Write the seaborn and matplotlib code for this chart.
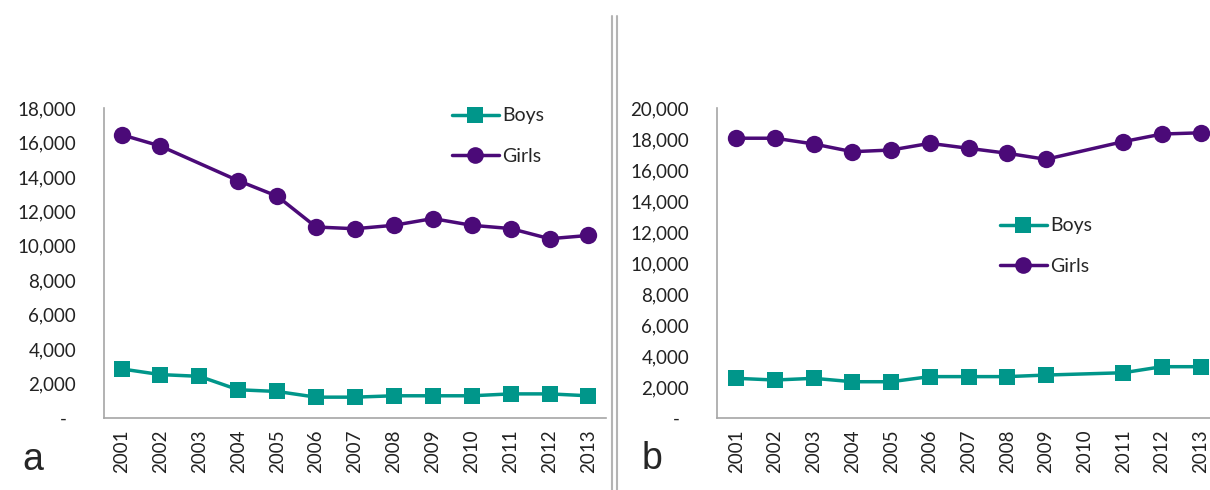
import seaborn as sns
import matplotlib.pyplot as plt
import matplotlib.lines as mlines
import pandas as pd
import numpy as np

# ----------- DATA -----------
years = list(range(2001, 2014))

# panel a
boys_a = [2850, 2520, 2420, 1640, 1540, 1210, 1210, 1290, 1290, 1290, 1400, 1400, 1290]
girls_a = [16450, 15790, np.nan, 13780, 12880, 11090, 10990, 11190, 11580, 11190, 11000, 10410, 10600]

# panel b
boys_b = [2560, 2450, 2560, 2340, 2340, 2670, 2670, 2670, 2770, np.nan, 2920, 3310, 3310]
girls_b = [18050, 18050, 17680, 17180, 17290, 17720, 17400, 17080, 16690, np.nan, 17830, 18320, 18400]

teal = "#00968A"
purple = "#4B0A78"

sns.set_style("white")
plt.rcParams["font.family"] = ["Lato", "DejaVu Sans"]

fig = plt.figure(figsize=(12.1, 4.9), dpi=100)
W, H = 1210, 490


def add_axes_px(left, top, right, bottom):
    return fig.add_axes([left / W, 1 - bottom / H, (right - left) / W, (bottom - top) / H])


def fmt(v):
    return "-  " if v == 0 else f"{int(v):,}"


def draw_panel(ax, boys, girls, ymax, xlim):
    df = pd.DataFrame({"year": years, "Boys": boys, "Girls": girls})
    sns.lineplot(data=df, x="year", y="Boys", ax=ax, color=teal, marker="s",
                 markersize=12, markeredgewidth=0, linewidth=2.5)
    sns.lineplot(data=df, x="year", y="Girls", ax=ax, color=purple, marker="o",
                 markersize=12.5, markeredgewidth=0, linewidth=2.5)
    ax.set_xlim(*xlim)
    ax.set_ylim(0, ymax)
    ax.set_xticks(years)
    ax.set_xticklabels([str(y) for y in years], rotation=90, fontsize=13.5, color="#222222")
    yt = np.arange(0, ymax + 1, 2000)
    ax.set_yticks(yt)
    ax.set_yticklabels([fmt(v) for v in yt], fontsize=13.5, color="#222222")
    ax.tick_params(axis="y", length=0, pad=20)
    ax.tick_params(axis="x", length=0, pad=8)
    ax.set_xlabel("")
    ax.set_ylabel("")
    for s in ["top", "right"]:
        ax.spines[s].set_visible(False)
    for s in ["left", "bottom"]:
        ax.spines[s].set_color("#a6a6a6")
        ax.spines[s].set_linewidth(1.2)


def legend_handles():
    b = mlines.Line2D([], [], color=teal, marker="s", markersize=12, markeredgewidth=0,
                      linewidth=2.5, label="Boys")
    g = mlines.Line2D([], [], color=purple, marker="o", markersize=12, markeredgewidth=0,
                      linewidth=2.5, label="Girls")
    return [b, g]


# ----------- PANEL A -----------
ax_a = add_axes_px(104, 108, 606, 418)
draw_panel(ax_a, boys_a, girls_a, 18000, (2000.55, 2013.45))
fig.legend(handles=legend_handles(), loc="center left", bbox_to_anchor=(452 / W, 1 - 136 / H),
           frameon=False, fontsize=14, handlelength=2.4, handletextpad=0.2,
           labelspacing=1.2, borderpad=0, borderaxespad=0)

# ----------- PANEL B -----------
ax_b = add_axes_px(717, 108, 1220, 418)
draw_panel(ax_b, boys_b, girls_b, 20000, (2000.5, 2013.5))
fig.legend(handles=legend_handles(), loc="center left", bbox_to_anchor=(1000 / W, 1 - 246 / H),
           frameon=False, fontsize=14, handlelength=2.4, handletextpad=0.2,
           labelspacing=1.2, borderpad=0, borderaxespad=0)

# panel letters
fig.text(22 / W, 1 - 470 / H, "a", fontsize=27, family="Liberation Sans", va="baseline")
fig.text(642 / W, 1 - 469 / H, "b", fontsize=27, family="Liberation Sans", va="baseline")

# double divider line
for x in (612, 617):
    fig.add_artist(mlines.Line2D([x / W, x / W], [0, 1 - 16 / H], color="#b4b4b4", linewidth=1.5))

fig.savefig("out.png", dpi=100)
